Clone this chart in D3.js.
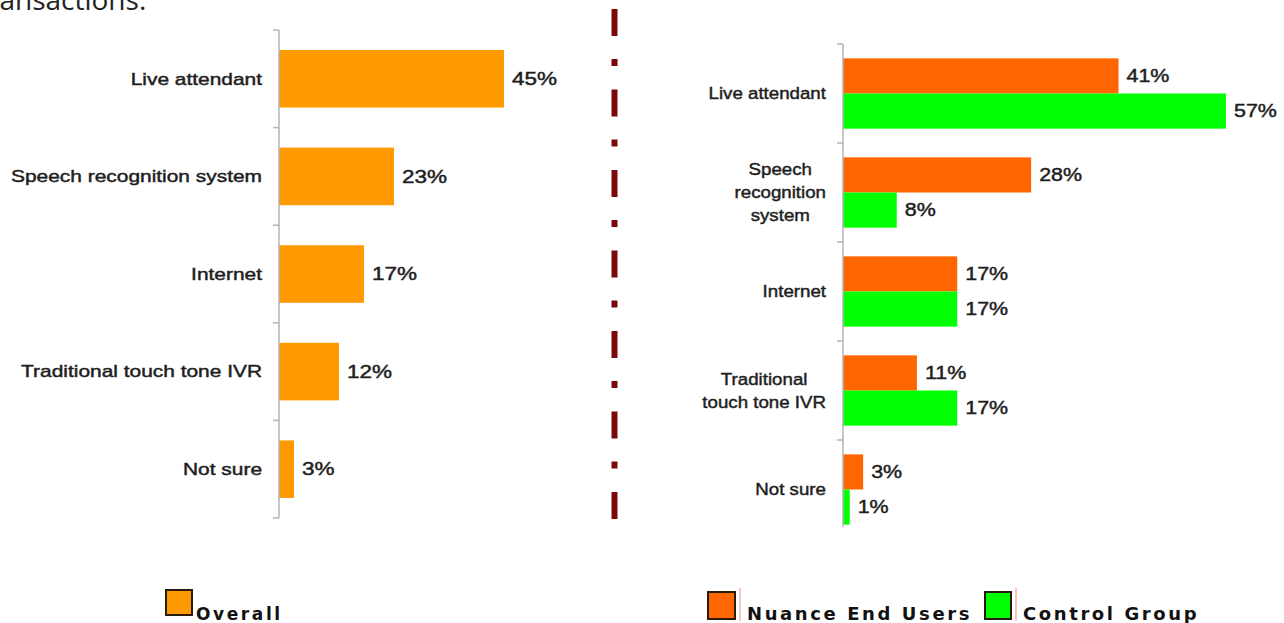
<!DOCTYPE html>
<html>
<head>
<meta charset="utf-8">
<script src="https://cdn.jsdelivr.net/npm/d3@7"></script>
<style>
  html, body { margin: 0; padding: 0; background: #fff; overflow: hidden; }
  svg { display: block; }
</style>
</head>
<body>
<svg id="chart" width="1284" height="623"></svg>
<script>
// ---------- DATA ----------
const categories = ["Live attendant", "Speech recognition system", "Internet", "Traditional touch tone IVR", "Not sure"];
const rightCategoryLines = [["Live attendant"], ["Speech", "recognition", "system"], ["Internet"], ["Traditional", "touch tone IVR"], ["Not sure"]];
const overallValues = [45, 23, 17, 12, 3];
const nuanceValues = [41, 28, 17, 11, 3];
const controlValues = [57, 8, 17, 17, 1];
const seriesNames = ["Nuance End Users", "Control Group"];
const leftLegend = ["Overall"];
const titleText = "transactions:";

// ---------- STYLE ----------
const cOverall = "#FF9900", cNuance = "#FF6600", cControl = "#00FF00";
const axisColor = "#b5b5b5";
const textColor = "#1e1e1e";
const chartFont = "'Liberation Sans', Arial, sans-serif";
const textStroke = 0.45;

const svg = d3.select("#chart");

// title (cut at top)
svg.append("text")
  .attr("x", -22).attr("y", 10)
  .attr("font-family", "'Open Sans', sans-serif")
  .attr("font-size", 28)
  .attr("fill", "#222")
  .text(titleText);

// ---------- LEFT CHART ----------
const xL = d3.scaleLinear().domain([0, 50]).range([279, 529]);
const yL = d3.scaleBand().domain(categories).range([30, 518]).paddingInner(0.41).paddingOuter(0.205);

const gL = svg.append("g");
gL.selectAll("rect.bar").data(categories).join("rect")
  .attr("class", "bar")
  .attr("x", xL(0))
  .attr("y", d => yL(d))
  .attr("width", (d, i) => xL(overallValues[i]) - xL(0))
  .attr("height", yL.bandwidth())
  .attr("fill", cOverall);

// axis line & ticks
gL.append("line").attr("x1", xL(0)).attr("x2", xL(0))
  .attr("y1", yL.range()[0]).attr("y2", yL.range()[1])
  .attr("stroke", axisColor).attr("stroke-width", 1.5);
gL.selectAll("line.tick").data(d3.range(categories.length + 1)).join("line")
  .attr("class", "tick")
  .attr("x1", xL(0) - 6).attr("x2", xL(0))
  .attr("y1", i => yL.range()[0] + i * yL.step())
  .attr("y2", i => yL.range()[0] + i * yL.step())
  .attr("stroke", axisColor).attr("stroke-width", 1.5);

// category labels
gL.selectAll("g.lab").data(categories).join("g")
  .attr("class", "lab")
  .attr("transform", d => `translate(${xL(0) - 17},${yL(d) + yL.bandwidth() / 2}) scale(1.23,1)`)
  .append("text")
  .attr("text-anchor", "end")
  .attr("dominant-baseline", "central")
  .attr("font-family", chartFont)
  .attr("font-size", 17)
  .attr("fill", textColor)
  .attr("stroke", textColor).attr("stroke-width", textStroke)
  .text(d => d);

// value labels
gL.selectAll("g.val").data(categories).join("g")
  .attr("class", "val")
  .attr("transform", (d, i) => `translate(${xL(overallValues[i]) + 8},${yL(d) + yL.bandwidth() / 2}) scale(1.25,1)`)
  .append("text")
  .attr("dominant-baseline", "central")
  .attr("font-family", chartFont)
  .attr("font-size", 18)
  .attr("fill", textColor)
  .attr("stroke", textColor).attr("stroke-width", textStroke)
  .text((d, i) => overallValues[i] + "%");

// ---------- DIVIDER ----------
svg.append("line")
  .attr("x1", 614.5).attr("x2", 614.5)
  .attr("y1", 9).attr("y2", 520)
  .attr("stroke", "#7a0a0a").attr("stroke-width", 6)
  .attr("stroke-dasharray", "27 23 7 23.5");

// ---------- RIGHT CHART ----------
const xR = d3.scaleLinear().domain([0, 60]).range([843, 843 + 60 * 6.72]);
const yR = d3.scaleBand().domain(categories).range([44, 539]).paddingInner(0.29).paddingOuter(0.145);
const ySub = d3.scaleBand().domain(seriesNames).range([0, yR.bandwidth()]);
const seriesVals = [nuanceValues, controlValues];
const seriesCols = [cNuance, cControl];

const gR = svg.append("g");
seriesNames.forEach((s, si) => {
  gR.selectAll("rect.s" + si).data(categories).join("rect")
    .attr("class", "s" + si)
    .attr("x", xR(0))
    .attr("y", d => yR(d) + ySub(s))
    .attr("width", (d, i) => xR(seriesVals[si][i]) - xR(0))
    .attr("height", ySub.bandwidth())
    .attr("fill", seriesCols[si]);
  gR.selectAll("g.v" + si).data(categories).join("g")
    .attr("class", "v" + si)
    .attr("transform", (d, i) => `translate(${xR(seriesVals[si][i]) + 8},${yR(d) + ySub(s) + ySub.bandwidth() / 2}) scale(1.19,1)`)
    .append("text")
    .attr("dominant-baseline", "central")
    .attr("font-family", chartFont)
    .attr("font-size", 18)
    .attr("fill", textColor)
    .attr("stroke", textColor).attr("stroke-width", textStroke)
    .text((d, i) => seriesVals[si][i] + "%");
});

gR.append("line").attr("x1", xR(0)).attr("x2", xR(0))
  .attr("y1", yR.range()[0]).attr("y2", 527)
  .attr("stroke", axisColor).attr("stroke-width", 1.5);
gR.selectAll("line.tick").data(d3.range(categories.length)).join("line")
  .attr("class", "tick")
  .attr("x1", xR(0) - 6).attr("x2", xR(0))
  .attr("y1", i => yR.range()[0] + i * yR.step())
  .attr("y2", i => yR.range()[0] + i * yR.step())
  .attr("stroke", axisColor).attr("stroke-width", 1.5);

// right category labels (centered block, right-aligned)
const lineH = 23;
const labRight = 826, sx = 1.1;
categories.forEach((c, ci) => {
  const lines = rightCategoryLines[ci];
  const cy = yR(c) + yR.bandwidth() / 2;
  const g = gR.append("g");
  const t = g.append("text")
    .attr("font-family", chartFont)
    .attr("font-size", 17)
    .attr("fill", textColor)
    .attr("stroke", textColor).attr("stroke-width", textStroke)
    .attr("text-anchor", "middle");
  lines.forEach((ln, li) => {
    t.append("tspan").attr("x", 0)
      .attr("y", (li - (lines.length - 1) / 2) * lineH)
      .attr("dominant-baseline", "central")
      .text(ln);
  });
  let maxW = 0;
  t.selectAll("tspan").each(function () { maxW = Math.max(maxW, this.getComputedTextLength()); });
  g.attr("transform", `translate(${labRight - maxW * sx / 2},${cy}) scale(${sx},1)`);
});

// ---------- LEGENDS ----------
const legFont = "'DejaVu Sans', Verdana, sans-serif";
function legendItem(x, boxY, boxW, boxH, color, label, redLine, fontSize) {
  const g = svg.append("g");
  g.append("rect").attr("x", x).attr("y", boxY).attr("width", boxW).attr("height", boxH)
    .attr("fill", color).attr("stroke", "#2a1a0a").attr("stroke-width", 2);
  let tx = x + boxW + 4;
  if (redLine) {
    g.append("line").attr("x1", x + boxW + 5).attr("x2", x + boxW + 5)
      .attr("y1", boxY - 4).attr("y2", boxY + boxH + 2)
      .attr("stroke", "#f08a8a").attr("stroke-width", 1);
    tx = x + boxW + 12;
  }
  g.append("text").attr("x", tx).attr("y", 620)
    .attr("font-family", legFont).attr("font-size", fontSize)
    .attr("letter-spacing", 2.6)
    .attr("font-weight", "bold")
    .attr("fill", "#111")
    .text(label);
}
legendItem(166, 590, 26, 25, cOverall, leftLegend[0], false, 17);
legendItem(708, 592, 27, 27, cNuance, seriesNames[0], true, 18);
legendItem(985, 592, 26, 27, cControl, seriesNames[1], true, 18);
</script>
</body>
</html>
